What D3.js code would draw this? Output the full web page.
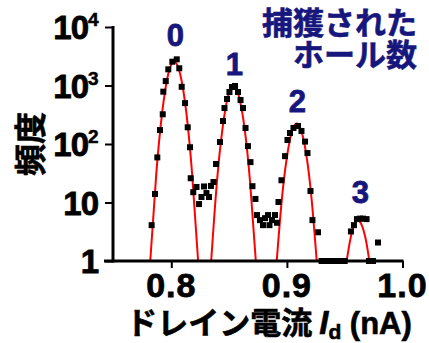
<!DOCTYPE html>
<html><head>
<meta charset="utf-8">
<script src="https://cdn.jsdelivr.net/npm/d3@7"></script>
<style>
  body { margin: 0; background: #fff; }
  text { font-family: "Liberation Sans", Arial, sans-serif; font-weight: bold; }
  .jp { font-family: "Noto Sans CJK JP", sans-serif; font-weight: bold; }
</style>
</head>
<body>
<svg id="chart" width="429" height="343"></svg>
<script>
  // measured counts (current in nA, frequency)
  let dataX = [0.7830, 0.7859, 0.7879, 0.7902, 0.7926, 0.7931, 0.7952, 0.7974, 0.8009, 0.8047,
    0.8069, 0.8090, 0.8119, 0.8142, 0.8162, 0.8168, 0.8190,
    0.8218, 0.8240, 0.8261, 0.8283, 0.8304, 0.8326, 0.8343, 0.8365,
    0.8387, 0.8421, 0.8447, 0.8460, 0.8482, 0.8503, 0.8525, 0.8551, 0.8577, 0.8599,
    0.8620, 0.8642, 0.8663, 0.8685, 0.8702, 0.8728,
    0.8741, 0.8767, 0.8793, 0.8811, 0.8837, 0.8849, 0.8871, 0.8897, 0.8914,
    0.8927, 0.8953, 0.8984, 0.9005, 0.9027, 0.9057, 0.9096, 0.9126, 0.9157, 0.9178,
    0.9204, 0.9221, 0.9269,
    0.9300, 0.9340, 0.9380, 0.9420, 0.9460, 0.9500,
    0.9554, 0.9580, 0.9606, 0.9632, 0.9658, 0.9689, 0.9710, 0.9745, 0.9788];
  let dataY = [4.1, 14, 59, 173, 322, 784, 1190, 1890, 2550, 2800,
    1970, 950, 500, 193, 88, 26, 15,
    18.4, 9.4, 12.4, 18.8, 14.5, 12.4, 19.2, 22.4,
    45.5, 108, 247, 412, 588, 774, 942, 980, 774, 565,
    412, 188, 92, 49, 19, 11.5,
    6.1, 5.0, 4.1, 5.4, 6.1, 4.1, 5.0, 6.1, 4.5,
    10.2, 24, 62, 117, 154, 188, 203, 167, 110, 70,
    15.7, 5.0, 3.1,
    1, 1, 1, 1, 1, 1,
    3.2, 4.1, 5.2, 5.3, 5.3, 5.2, 1, 1, 2.07];

  // fitted peaks (red curves)
  let fitX = [
    [0.7818, 0.7870, 0.7922, 0.7973, 0.8025, 0.8077, 0.8129, 0.8180, 0.8232],
    [0.8345, 0.8393, 0.8442, 0.8490, 0.8538, 0.8586, 0.8635, 0.8683, 0.8731],
    [0.8912, 0.8955, 0.8999, 0.9042, 0.9085, 0.9128, 0.9172, 0.9215, 0.9258],
    [0.9517, 0.9542, 0.9566, 0.9591, 0.9615, 0.9640, 0.9664, 0.9689, 0.9713]];
  let fitY = [
    [1, 31, 359, 1563, 2550, 1563, 359, 31, 1],
    [1, 20.5, 178, 649, 1000, 649, 178, 20.5, 1],
    [1, 10.7, 57.9, 160, 224, 160, 57.9, 10.7, 1],
    [1, 2.0, 3.29, 4.43, 4.9, 4.43, 3.29, 2.0, 1]];

  let peakLabels = ["0", "1", "2", "3"];
  let xTicks = [0.8, 0.9, 1.0];
  let xMinor = [0.75, 0.85, 0.95];
  let yTicks = [1, 10, 100, 1000, 10000];
  let yTickLabels = [["1", ""], ["10", ""], ["10", "2"], ["10", "3"], ["10", "4"]];

  let svg = d3.select("#chart");
  let navy = "#16167c";

  let x = d3.scaleLinear().domain([0.75, 1.0]).range([113.5, 402.5]);
  let y = d3.scaleLog().domain([1, 10000]).range([261, 27]);

  // red fit curves
  let line = d3.line()
      .x(d => x(d[0]))
      .y(d => y(d[1]))
      .curve(d3.curveNatural);

  fitX.forEach(function(xs, i) {
    let pts = xs.map((v, j) => [v, fitY[i][j]]);
    svg.append("path")
        .attr("d", line(pts))
        .attr("fill", "none")
        .attr("stroke", "#ff0000")
        .attr("stroke-width", 2);
  });

  // data squares
  svg.selectAll("rect.pt")
      .data(dataX.map((v, i) => [v, dataY[i]]))
      .enter().append("rect")
      .attr("class", "pt")
      .attr("x", d => x(d[0]) - 3)
      .attr("y", d => y(d[1]) - 3)
      .attr("width", 6)
      .attr("height", 6)
      .attr("fill", "#000");

  // y axis
  let minor = [];
  for (let p = 0; p < 4; p++) {
    for (let k = 2; k < 10; k++) minor.push(k * Math.pow(10, p));
  }
  let yg = svg.append("g").attr("transform", "translate(113,0)");
  yg.call(d3.axisLeft(y).tickValues(minor).tickSize(4).tickFormat(""));
  yg.call(d3.axisLeft(y).tickValues(yTicks).tickSize(8).tickFormat(""));
  yg.selectAll("path.domain").remove();
  yg.selectAll("line").attr("stroke", "#000").attr("stroke-width", 2);
  svg.append("line")
      .attr("x1", 113).attr("x2", 113)
      .attr("y1", y(10000) - 1).attr("y2", y(1) + 1.5)
      .attr("stroke", "#000").attr("stroke-width", 3);

  yTicks.forEach(function(t, i) {
    let lab = yTickLabels[i];
    svg.append("text")
        .attr("x", lab[1] ? 88 : 98)
        .attr("y", y(t) + 12)
        .attr("text-anchor", "end")
        .attr("stroke", "#000").attr("stroke-width", 0.8)
        .style("font-size", "33px")
        .style("letter-spacing", "-1px")
        .text(lab[0]);
    if (lab[1]) {
      svg.append("text")
          .attr("x", 88)
          .attr("y", y(t) - 1)
          .attr("stroke", "#000").attr("stroke-width", 0.5)
          .style("font-size", "19px")
          .text(lab[1]);
    }
  });

  // x axis
  let xg = svg.append("g").attr("transform", "translate(0,261)");
  xg.call(d3.axisBottom(x).tickValues(xMinor).tickSize(5).tickFormat(""));
  xg.call(d3.axisBottom(x).tickValues(xTicks).tickSize(7).tickFormat(""));
  xg.selectAll("path.domain").remove();
  xg.selectAll("line").attr("stroke", "#000").attr("stroke-width", 2);
  svg.append("line")
      .attr("x1", 104).attr("x2", x(1.0) + 1)
      .attr("y1", 261).attr("y2", 261)
      .attr("stroke", "#000").attr("stroke-width", 3);

  xTicks.forEach(function(t) {
    svg.append("text")
        .attr("x", x(t))
        .attr("y", 297)
        .attr("text-anchor", "middle")
        .attr("stroke", "#000").attr("stroke-width", 0.8)
        .style("font-size", "34px")
        .style("letter-spacing", "1px")
        .text(d3.format(".1f")(t));
  });

  // peak labels
  let labelPos = [[0.8035, 4700], [0.8545, 1500], [0.909, 350], [0.9635, 9.8]];
  peakLabels.forEach(function(s, i) {
    svg.append("text")
        .attr("x", x(labelPos[i][0]))
        .attr("y", y(labelPos[i][1]))
        .attr("text-anchor", "middle")
        .attr("fill", navy)
        .attr("stroke", navy).attr("stroke-width", 0.8)
        .style("font-size", "31px")
        .text(s);
  });

  // title block
  svg.append("text").attr("class", "jp")
      .attr("x", 417).attr("y", 34)
      .attr("text-anchor", "end")
      .attr("fill", navy)
      .attr("stroke", navy).attr("stroke-width", 0.6)
      .style("font-size", "31px")
      .text("捕獲された");
  svg.append("text").attr("class", "jp")
      .attr("x", 417).attr("y", 66)
      .attr("text-anchor", "end")
      .attr("fill", navy)
      .attr("stroke", navy).attr("stroke-width", 0.6)
      .style("font-size", "31px")
      .text("ホール数");

  // axis titles
  svg.append("text").attr("class", "jp")
      .attr("transform", "translate(42,144) rotate(-90)")
      .attr("text-anchor", "middle")
      .attr("stroke", "#000").attr("stroke-width", 0.6)
      .style("font-size", "32px")
      .text("頻度");

  let xt = svg.append("text")
      .attr("x", 269).attr("y", 334)
      .attr("text-anchor", "middle")
      .attr("stroke", "#000").attr("stroke-width", 0.6)
      .style("font-size", "31px");
  xt.append("tspan").attr("class", "jp").text("ドレイン電流 ");
  xt.append("tspan").style("font-style", "italic").style("font-size", "33px").text("I");
  xt.append("tspan").attr("dy", 5).style("font-size", "21px").text("d");
  xt.append("tspan").attr("dy", -5).text(" (nA)");
</script>
</body>
</html>
